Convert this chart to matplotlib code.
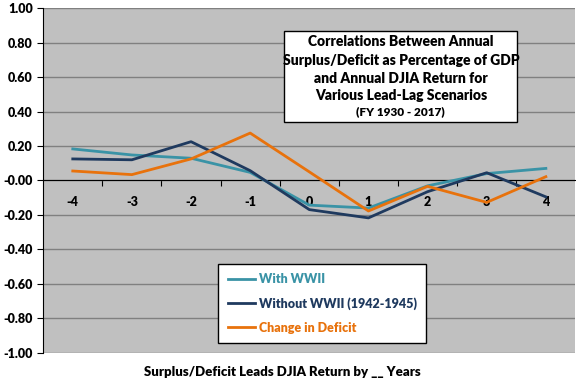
import matplotlib.pyplot as plt
import numpy as np

# lead-lag years and correlations
lags = [-4, -3, -2, -1, 0, 1, 2, 3, 4]
con_wwii = [0.183, 0.148, 0.129, 0.047, -0.143, -0.16, -0.031, 0.04, 0.07]
sin_wwii = [0.125, 0.12, 0.225, 0.057, -0.169, -0.217, -0.065, 0.045, -0.095]
cambio_deficit = [0.055, 0.034, 0.125, 0.275, 0.05, -0.177, -0.034, -0.127, 0.022]

etiquetas = ['With WWII', 'Without WWII (1942-1945)', 'Change in Deficit']
colores = ['#3A93A6', '#1F3A5F', '#E8720C']
titulo = ['Correlations Between Annual', 'Surplus/Deficit as Percentage of GDP',
          'and Annual DJIA Return for', 'Various Lead-Lag Scenarios']

plt.rcParams['font.family'] = ['Lato', 'DejaVu Sans']
W = 'heavy'

fig = plt.figure(figsize=(5.76, 3.84), dpi=100)
ax = fig.add_axes([0.075, 0.081, 0.924, 0.898])
ax.set_facecolor('#C0C0C0')

x = np.arange(len(lags))
lineas = []
for serie, col in zip([con_wwii, sin_wwii, cambio_deficit], colores):
    l, = ax.plot(x, serie, color=col, lw=2, zorder=3)
    lineas.append(l)

ax.set_xlim(-0.5, len(lags) - 0.5)
ax.set_ylim(-1, 1)
ax.set_yticks(np.arange(-1, 1.01, 0.2))
ax.set_yticklabels([f'{v:.2f}' for v in np.arange(-1, 1.01, 0.2)],
                   fontsize=9, fontweight=W)
ax.grid(axis='y', color='#808080', lw=1, zorder=1)
ax.set_axisbelow(True)

ax.spines['bottom'].set_position(('data', 0))
ax.spines['top'].set_visible(False)
ax.spines['right'].set_visible(False)
ax.spines['bottom'].set_zorder(2)

# ticks between categories, labels at centers
ax.set_xticks(np.arange(0.5, len(lags) - 1, 1))
ax.set_xticklabels([])
ax.tick_params(axis='x', which='major', direction='out', length=4)
ax.set_xticks(x, minor=True)
ax.set_xticklabels([str(v) for v in lags], minor=True, fontsize=9, fontweight=W)
ax.tick_params(axis='x', which='minor', length=0, pad=11)
ax.tick_params(axis='y', direction='out', length=4)

fig.text(0.49, 0.032, 'Surplus/Deficit Leads DJIA Return by __ Years',
         ha='center', va='center', fontsize=9.5, fontweight=W)

# title box
for yy, linea in zip([0.902, 0.849, 0.797, 0.745], titulo):
    ax.text(0.672, yy, linea, transform=ax.transAxes, ha='center', va='center',
            fontsize=10, fontweight=W, zorder=5)
ax.text(0.672, 0.700, '(FY 1930 - 2017)', transform=ax.transAxes, ha='center',
        va='center', fontsize=8.5, fontweight=W, zorder=5)
ax.add_patch(plt.Rectangle((0.453, 0.669), 0.438, 0.265, transform=ax.transAxes,
                           facecolor='white', edgecolor='black', lw=1, zorder=4))

leg = ax.legend(lineas, etiquetas, loc='upper left', bbox_to_anchor=(0.317, 0.277),
                frameon=True, fancybox=False, edgecolor='black', framealpha=1,
                prop={'weight': W, 'size': 9}, handlelength=2.2,
                labelspacing=0.95, borderpad=0.75, handletextpad=0.3)
leg.get_frame().set_linewidth(1)
for txt, col in zip(leg.get_texts(), colores):
    txt.set_color(col)

fig.savefig('out.png', dpi=100)
